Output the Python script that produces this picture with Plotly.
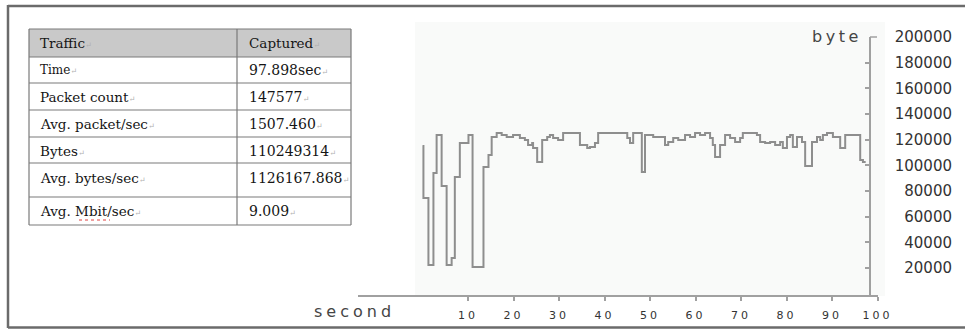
import plotly.graph_objects as go

W, H = 965, 329

# ---------------- data ----------------
time_s = [0, 0.2, 1.3, 2.4, 3.1, 4.2, 5.3, 6.4, 7.1, 8.2, 10.1, 11.0, 13.4, 14.5, 15.2,
          16.3, 17.4, 18.5, 19.9, 21.4, 22.5, 23.2, 24.1, 24.3, 25.2, 26.3, 27.4, 28.0,
          28.7, 29.8, 30.9, 34.6, 36.2, 36.8, 37.9, 38.6, 45.0, 45.6, 46.3, 48.2, 48.9,
          50.7, 53.3, 54.0, 55.1, 56.2, 57.7, 58.8, 59.9, 61.0, 62.1, 63.2, 63.8, 64.3,
          65.4, 66.5, 67.6, 68.7, 69.8, 70.4, 73.5, 74.2, 75.3, 76.4, 77.5, 78.6, 79.2,
          80.1, 80.8, 81.4, 82.3, 83.4, 84.1, 85.6, 86.7, 87.4, 88.0, 88.9, 90.2, 91.8,
          92.9, 96.2, 96.8, 97.4]
bytes_per_s = [115100, 74600, 22400, 94000, 123650, 84000, 22400, 27800, 90900, 117400,
               123650, 20800, 98700, 108000, 122100, 125200, 123650, 122100, 123650, 121300,
               119750, 115850, 117400, 113500, 102600, 119750, 122100, 123650, 121300, 119750,
               125200, 115850, 113500, 114300, 117400, 125200, 121300, 117400, 125200, 94800,
               123650, 122100, 115850, 118200, 121300, 119750, 123650, 122100, 125200, 123650,
               125200, 121300, 115850, 106500, 115850, 123650, 121300, 118200, 121300, 125200,
               123650, 118200, 117400, 118200, 115850, 118200, 113500, 122100, 123650, 114300,
               122100, 118200, 99500, 118200, 122100, 119750, 123650, 125200, 122100, 113500,
               123650, 104200, 102600, 102600]

x_tick_vals = [10, 20, 30, 40, 50, 60, 70, 80, 90, 100]
x_tick_text = ["10", "20", "30", "40", "50", "60", "70", "80", "90", "100"]
y_tick_vals = [20000, 40000, 60000, 80000, 100000, 120000, 140000, 160000, 180000, 200000]
y_tick_text = ["20000", "40000", "60000", "80000", "100000", "120000", "140000",
               "160000", "180000", "200000"]

table_labels = ["Traffic", "Time", "Packet count", "Avg. packet/sec", "Bytes",
                "Avg. bytes/sec", "Avg. Mbit/sec"]
table_values = ["Captured", "97.898sec", "147577", "1507.460", "110249314",
                "1126167.868", "9.009"]

x_title = "second"
y_title = "byte"

# ---------------- helpers (pixel -> paper) ----------------
def fx(px):
    return px / W

def fy(py):
    return 1 - py / H

LINE_COL = "#8e8e8e"
AX_COL = "#a0a0a0"

fig = go.Figure()
fig.add_trace(go.Scatter(x=time_s, y=bytes_per_s, mode="lines", line_shape="hv",
                         line=dict(color=LINE_COL, width=2), hoverinfo="skip",
                         showlegend=False))
# invisible trace for the label axis
fig.add_trace(go.Scatter(x=[50], y=[0], yaxis="y2", mode="markers",
                         marker=dict(opacity=0), hoverinfo="skip", showlegend=False))

def spaced(t, sp):
    return '<span style="letter-spacing:%spx">%s</span>' % (sp, t)

shapes = []
annotations = []

# frame
frame_col = "#6b6b6b"
shapes.append(dict(type="line", xref="paper", yref="paper", x0=fx(8), x1=fx(965), y0=fy(6), y1=fy(6),
                   line=dict(color=frame_col, width=2.5)))
shapes.append(dict(type="line", xref="paper", yref="paper", x0=fx(8), x1=fx(8), y0=fy(5), y1=fy(328),
                   line=dict(color=frame_col, width=2.5)))
shapes.append(dict(type="line", xref="paper", yref="paper", x0=fx(8), x1=fx(965), y0=fy(327.5), y1=fy(327.5),
                   line=dict(color=frame_col, width=2.5)))

# faint plot background
shapes.append(dict(type="rect", xref="paper", yref="paper", x0=fx(415), x1=fx(885), y0=fy(22), y1=fy(296),
                   fillcolor="#f9faf9", line=dict(width=0), layer="below"))

# top cap of y axis
shapes.append(dict(type="line", xref="paper", yref="paper", x0=fx(870), x1=fx(877), y0=fy(37), y1=fy(37),
                   line=dict(color=AX_COL, width=1.5)))

# ---------------- table ----------------
tx0, tx1, tcol = 29, 351, 237
row_edges = [29, 57, 83, 110, 137, 163, 197, 225]
text_y = [43, 70, 97, 124, 151, 178, 211]
grid_col = "#7a7a7a"
shapes.append(dict(type="rect", xref="paper", yref="paper", x0=fx(tx0), x1=fx(tx1),
                   y0=fy(row_edges[0]), y1=fy(row_edges[1]), fillcolor="#c9c9c9",
                   line=dict(width=0), layer="below"))
for e in row_edges:
    shapes.append(dict(type="line", xref="paper", yref="paper", x0=fx(tx0), x1=fx(tx1),
                       y0=fy(e), y1=fy(e), line=dict(color=grid_col, width=1.2)))
for xv in (tx0, tcol, tx1):
    shapes.append(dict(type="line", xref="paper", yref="paper", x0=fx(xv), x1=fx(xv),
                       y0=fy(row_edges[0]), y1=fy(row_edges[-1]), line=dict(color=grid_col, width=1.2)))

mark = '<span style="font-size:8px;color:#b0b0b0">\u21b5</span>'
for i, (lab, val) in enumerate(zip(table_labels, table_values)):
    size = 12 if lab == "Time" else 13.5
    annotations.append(dict(x=fx(38), y=fy(text_y[i]), xref="paper", yref="paper",
                            text=lab + mark, showarrow=False, xanchor="left", yanchor="middle",
                            font=dict(family="DejaVu Serif", size=size, color="#151515")))
    annotations.append(dict(x=fx(247), y=fy(text_y[i]), xref="paper", yref="paper",
                            text=val + mark, showarrow=False, xanchor="left", yanchor="middle",
                            font=dict(family="DejaVu Serif", size=14 if i else 13.5, color="#151515")))
# spell-check squiggle under "Mbit"
shapes.append(dict(type="line", xref="paper", yref="paper", x0=fx(79), x1=fx(110), y0=fy(220), y1=fy(220),
                   line=dict(color="#e04040", width=1, dash="dot")))

# axis titles
annotations.append(dict(x=fx(354), y=fy(311), xref="paper", yref="paper", text=spaced(x_title, 4),
                        showarrow=False, xanchor="center", yanchor="middle",
                        font=dict(family="DejaVu Sans", size=16, color="#454545")))
annotations.append(dict(x=fx(864), y=fy(37), xref="paper", yref="paper", text=spaced(y_title, 3.5),
                        showarrow=False, xanchor="right", yanchor="middle",
                        font=dict(family="DejaVu Sans", size=16, color="#454545")))

fig.update_layout(
    width=W, height=H, margin=dict(l=0, r=0, t=0, b=0, autoexpand=False),
    paper_bgcolor="white", plot_bgcolor="rgba(0,0,0,0)",
    showlegend=False,
    xaxis=dict(domain=[fx(358), fx(877.5)], range=[-14.18, 100], anchor="y", automargin=False,
               showgrid=False, zeroline=False, showline=True, linecolor=AX_COL, linewidth=2,
               ticks="outside", ticklen=4, tickwidth=1.5, tickcolor=AX_COL,
               tickvals=x_tick_vals, ticktext=[spaced(t, 3) for t in x_tick_text],
               ticklabelstandoff=5,
               tickfont=dict(family="DejaVu Sans", size=11, color="#333333")),
    yaxis=dict(domain=[fy(295), fy(37)], range=[-1000, 200000], anchor="free", automargin=False,
               position=fx(870), side="right", showgrid=False, zeroline=False,
               showline=True, linecolor=AX_COL, linewidth=2,
               ticks="inside", ticklen=4, tickwidth=1.5, tickcolor=AX_COL,
               tickvals=y_tick_vals[:-1], showticklabels=False),
    yaxis2=dict(domain=[fy(295), fy(37)], range=[-1000, 200000], overlaying="y", automargin=False,
                anchor="free", position=fx(952), side="left", showgrid=False,
                zeroline=False, showline=False, ticks="",
                tickvals=y_tick_vals, ticktext=y_tick_text,
                tickfont=dict(family="DejaVu Sans", size=15, color="#333333")),
    shapes=shapes, annotations=annotations,
)

fig.write_html("out.html")
